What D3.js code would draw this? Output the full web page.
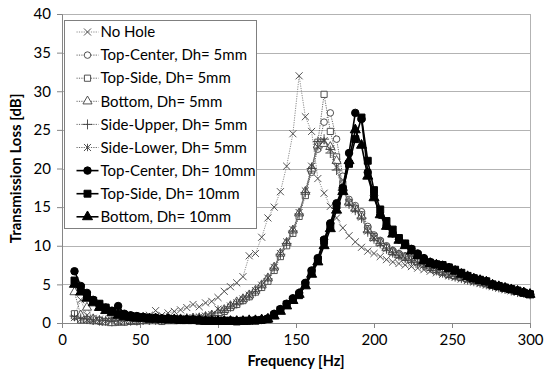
<!DOCTYPE html>
<html>
<head>
<meta charset="utf-8">
<script src="https://cdn.jsdelivr.net/npm/d3@7"></script>
<style>
  body { margin: 0; background: #fff; }
  text { font-family: Lato, "Liberation Sans", sans-serif; }
</style>
</head>
<body>
<div id="chart"></div>
<script>
// frequencies [Hz]
var freqs = [8, 12, 16, 20, 24, 28, 32, 36, 40, 44,
  48, 52, 56, 60, 64, 68, 72, 76, 80, 84,
  88, 92, 96, 100, 104, 108, 112, 116, 120, 124,
  128, 132, 136, 140, 144, 148, 152, 156, 160, 164,
  168, 172, 176, 180, 184, 188, 192, 196, 200, 204,
  208, 212, 216, 220, 224, 228, 232, 236, 240, 244,
  248, 252, 256, 260, 264, 268, 272, 276, 280, 284,
  288, 292, 296, 300];

var noHole = [1.0, 3.0, 1.0, 0.6, 0.5, 0.1, 0.3, 0.4, 0.5, 0.6,
  0.7, 0.8, 1.0, 1.6, 1.0, 1.3, 1.5, 1.7, 2.0, 2.4,
  2.1, 2.6, 2.8, 3.3, 4.1, 4.7, 5.2, 6.0, 8.7, 9.0,
  11.1, 13.6, 15.0, 17.0, 20.3, 24.5, 32.0, 26.7, 24.8, 18.7,
  16.8, 15.1, 13.6, 12.3, 11.3, 10.5, 9.8, 9.3, 9.0, 8.6,
  8.2, 7.9, 7.7, 7.5, 7.3, 7.1, 6.9, 6.7, 6.5, 6.3,
  6.1, 5.9, 5.7, 5.5, 5.3, 5.1, 4.9, 4.7, 4.5, 4.3,
  4.2, 4.0, 3.9, 3.7];

var topCenter5 = [0.8, 0.5, 0.5, 0.3, 0.2, 0.2, 0.3, 0.2, 0.2, 0.2,
  0.3, 0.3, 0.3, 0.4, 0.3, 0.4, 0.4, 0.4, 0.5, 0.5,
  0.6, 0.7, 0.9, 1.2, 1.6, 2.1, 2.6, 3.0, 3.5, 4.1,
  4.7, 5.6, 7.0, 8.8, 10.2, 11.8, 14.0, 16.8, 19.5, 22.5,
  26.0, 27.2, 23.8, 19.0, 16.0, 15.2, 14.4, 12.5, 11.4, 10.7,
  10.0, 9.4, 9.0, 8.7, 8.4, 8.1, 7.8, 7.4, 7.0, 6.8,
  6.5, 6.2, 6.0, 5.8, 5.6, 5.4, 5.2, 5.0, 4.8, 4.6,
  4.4, 4.2, 4.0, 3.8];

var topSide5 = [1.2, 0.4, 0.4, 0.3, 0.3, 0.2, 0.2, 0.1, 0.1, 0.2,
  0.2, 0.3, 0.3, 0.3, 0.2, 0.3, 0.3, 0.4, 0.4, 0.5,
  0.5, 0.6, 0.8, 1.1, 1.5, 2.0, 2.4, 2.9, 3.4, 4.0,
  4.6, 5.4, 6.8, 8.6, 10.0, 11.6, 13.8, 16.5, 19.8, 23.4,
  29.6, 24.8, 21.5, 18.0, 15.6, 14.8, 14.0, 12.2, 11.2, 10.5,
  9.8, 9.2, 8.8, 8.5, 8.2, 7.9, 7.6, 7.2, 6.9, 6.6,
  6.3, 6.1, 5.9, 5.7, 5.5, 5.3, 5.1, 4.9, 4.7, 4.5,
  4.3, 4.1, 3.9, 3.7];

var bottom5 = [4.0, 1.0, 2.0, 0.5, 0.3, 0.1, 0.0, 0.2, 0.2, 0.3,
  0.3, 0.3, 0.4, 0.4, 0.4, 0.4, 0.5, 0.5, 0.5, 0.6,
  0.6, 0.8, 1.0, 1.3, 1.7, 2.2, 2.7, 3.1, 3.6, 4.2,
  4.9, 5.8, 7.2, 9.0, 10.4, 12.0, 14.2, 17.0, 20.0, 23.0,
  23.2, 22.8, 21.0, 17.5, 15.6, 14.8, 13.8, 12.0, 11.0, 10.4,
  9.7, 9.2, 8.8, 8.5, 8.2, 7.9, 7.6, 7.2, 6.9, 6.6,
  6.3, 6.1, 5.9, 5.7, 5.5, 5.3, 5.1, 4.9, 4.7, 4.5,
  4.3, 4.1, 3.9, 3.7];

var sideUpper5 = [0.9, 0.6, 0.5, 0.4, 0.3, 0.3, 0.2, 0.3, 0.3, 0.3,
  0.3, 0.4, 0.4, 0.4, 0.4, 0.5, 0.5, 0.5, 0.6, 0.6,
  0.7, 0.8, 1.0, 1.3, 1.6, 2.1, 2.5, 3.0, 3.5, 4.1,
  4.8, 5.7, 7.1, 8.9, 10.3, 11.9, 14.1, 16.9, 20.0, 23.5,
  23.8, 22.0, 19.8, 17.2, 15.4, 14.6, 13.6, 11.8, 10.9, 10.3,
  9.6, 9.1, 8.7, 8.4, 8.1, 7.8, 7.5, 7.1, 6.8, 6.5,
  6.2, 6.0, 5.8, 5.6, 5.4, 5.2, 5.0, 4.8, 4.6, 4.4,
  4.2, 4.0, 3.9, 3.7];

var sideLower5 = [0.7, 0.5, 0.4, 0.3, 0.3, 0.2, 0.3, 0.2, 0.3, 0.3,
  0.3, 0.4, 0.4, 0.5, 0.4, 0.5, 0.5, 0.6, 0.6, 0.7,
  0.8, 0.9, 1.1, 1.8, 1.7, 2.2, 2.6, 3.1, 3.6, 4.2,
  4.9, 5.8, 7.2, 9.0, 10.5, 12.1, 14.3, 17.1, 20.3, 22.8,
  23.6, 22.5, 20.2, 17.4, 15.5, 14.7, 13.7, 11.9, 11.0, 10.3,
  9.6, 9.1, 8.7, 8.4, 8.1, 7.8, 7.5, 7.1, 6.8, 6.5,
  6.2, 6.0, 5.8, 5.6, 5.4, 5.2, 5.0, 4.8, 4.6, 4.4,
  4.2, 4.0, 3.9, 3.7];

var topCenter10 = [6.7, 4.8, 3.9, 3.0, 2.4, 2.0, 1.6, 2.2, 1.2, 1.0,
  0.9, 0.8, 0.7, 0.7, 0.6, 0.6, 0.5, 0.5, 0.5, 0.4,
  0.4, 0.3, 0.3, 0.3, 0.3, 0.3, 0.3, 0.3, 0.3, 0.4,
  0.4, 0.6, 1.2, 1.8, 2.5, 3.2, 3.9, 5.2, 6.8, 8.4,
  10.8, 12.9, 15.5, 17.5, 22.0, 27.2, 26.4, 19.5, 16.5, 14.0,
  12.6, 11.6, 10.8, 10.2, 9.6, 9.0, 8.4, 7.9, 7.6, 7.5,
  7.2, 6.8, 6.4, 6.0, 5.8, 5.6, 5.4, 5.0, 4.8, 4.6,
  4.4, 4.2, 4.0, 3.8];

var topSide10 = [5.5, 4.6, 3.6, 2.9, 2.5, 2.0, 1.5, 1.2, 1.0, 0.9,
  0.8, 0.7, 0.6, 0.6, 0.5, 0.5, 0.5, 0.4, 0.4, 0.4,
  0.3, 0.3, 0.3, 0.3, 0.3, 0.3, 0.2, 0.3, 0.3, 0.3,
  0.4, 0.5, 1.0, 1.7, 2.4, 3.0, 3.6, 5.0, 6.6, 8.2,
  10.6, 12.6, 15.2, 17.2, 20.6, 23.8, 26.6, 21.0, 17.2, 14.7,
  13.2, 12.1, 11.0, 10.3, 9.5, 8.8, 8.1, 7.8, 7.6, 7.5,
  7.2, 6.9, 6.5, 6.1, 5.8, 5.6, 5.4, 5.0, 4.8, 4.6,
  4.4, 4.2, 3.9, 3.7];

var bottom10 = [5.0, 4.0, 3.2, 2.6, 2.0, 1.6, 1.3, 1.0, 0.8, 0.7,
  0.6, 0.6, 0.5, 0.5, 0.4, 0.4, 0.4, 0.3, 0.3, 0.3,
  0.3, 0.2, 0.2, 0.2, 0.2, 0.2, 0.2, 0.2, 0.3, 0.3,
  0.4, 0.5, 0.9, 1.5, 2.2, 2.9, 3.7, 4.8, 6.3, 7.9,
  10.0, 12.2, 14.6, 17.0, 21.0, 25.0, 23.0, 19.0, 16.2, 14.0,
  12.5, 11.5, 10.7, 10.0, 9.3, 8.7, 8.1, 7.7, 7.5, 7.3,
  7.0, 6.7, 6.3, 6.0, 5.7, 5.5, 5.3, 4.9, 4.7, 4.5,
  4.3, 4.1, 3.9, 3.7];

var seriesNames = ["No Hole", "Top-Center, Dh= 5mm", "Top-Side, Dh= 5mm", "Bottom, Dh= 5mm",
  "Side-Upper, Dh= 5mm", "Side-Lower, Dh= 5mm", "Top-Center, Dh= 10mm",
  "Top-Side, Dh= 10mm", "Bottom, Dh= 10mm"];
var seriesValues = [noHole, topCenter5, topSide5, bottom5, sideUpper5, sideLower5,
  topCenter10, topSide10, bottom10];

var xTicks = [0, 50, 100, 150, 200, 250, 300];
var yTicks = [0, 5, 10, 15, 20, 25, 30, 35, 40];

// look of each series
var styles = [
  { marker: "x", filled: false, line: "#8c8c8c", dash: "1.2,1.2", width: 1, mcol: "#404040" },
  { marker: "circle", filled: false, line: "#666", dash: "1.2,1.2", width: 1, mcol: "#404040" },
  { marker: "square", filled: false, line: "#666", dash: "1.2,1.2", width: 1, mcol: "#404040" },
  { marker: "triangle", filled: false, line: "#666", dash: "1.2,1.2", width: 1, mcol: "#404040" },
  { marker: "plus", filled: false, line: "#666", dash: "1.2,1.2", width: 1, mcol: "#404040" },
  { marker: "star", filled: false, line: "#666", dash: "1.2,1.2", width: 1, mcol: "#404040" },
  { marker: "circle", filled: true, line: "#000", dash: null, width: 1.6, mcol: "#000" },
  { marker: "square", filled: true, line: "#000", dash: null, width: 1.6, mcol: "#000" },
  { marker: "triangle", filled: true, line: "#000", dash: null, width: 1.6, mcol: "#000" }
];

var W = 556, H = 372;
var margin = { top: 14, right: 26, bottom: 49, left: 62 },
  width = W - margin.left - margin.right,
  height = H - margin.top - margin.bottom;

var svg = d3.select("#chart").append("svg")
  .attr("width", W).attr("height", H);

var g = svg.append("g")
  .attr("transform", "translate(" + margin.left + "," + margin.top + ")");

var x = d3.scaleLinear().domain([0, 300]).range([0, width]);
var y = d3.scaleLinear().domain([0, 40]).range([height, 0]);

// gridlines
g.append("g").selectAll("line").data(yTicks.slice(1)).enter().append("line")
  .attr("x1", 0).attr("x2", width)
  .attr("y1", function (d) { return Math.round(y(d)) + 0.5; })
  .attr("y2", function (d) { return Math.round(y(d)) + 0.5; })
  .attr("stroke", "#b3b3b3").attr("stroke-width", 1);

// right border of plot area
g.append("line")
  .attr("x1", width + 0.5).attr("x2", width + 0.5)
  .attr("y1", y(40)).attr("y2", height)
  .attr("stroke", "#b3b3b3");

// axes
var xAxis = g.append("g")
  .attr("transform", "translate(0," + height + ")")
  .call(d3.axisBottom(x).tickValues(xTicks).tickSize(5).tickPadding(6));
var yAxis = g.append("g")
  .call(d3.axisLeft(y).tickValues(yTicks).tickSize(5).tickPadding(6));
[xAxis, yAxis].forEach(function (a) {
  a.select(".domain").attr("stroke", "#868686");
  a.selectAll(".tick line").attr("stroke", "#868686");
  a.selectAll(".tick text").attr("fill", "#000").style("font-size", "15px")
    .style("font-family", "Lato, sans-serif");
});

// axis titles
svg.append("text")
  .attr("x", margin.left + width / 2).attr("y", 366)
  .attr("text-anchor", "middle")
  .style("font-size", "14.5px").style("font-weight", "bold")
  .text("Frequency [Hz]");
svg.append("text")
  .attr("transform", "translate(21," + (margin.top + height / 2) + ") rotate(-90)")
  .attr("text-anchor", "middle")
  .style("font-size", "15px").style("font-weight", "bold")
  .text("Transmission Loss [dB]");

// marker drawing
function markerPath(type, filled) {
  if (type === "circle") return d3.symbol().type(d3.symbolCircle).size(filled ? 44 : 34)();
  if (type === "square") return d3.symbol().type(d3.symbolSquare).size(filled ? 48 : 38)();
  if (type === "triangle") return d3.symbol().type(d3.symbolTriangle).size(filled ? 44 : 36)();
  if (type === "x") return d3.symbol().type(d3.symbolTimes).size(34)();
  if (type === "plus") return d3.symbol().type(d3.symbolPlus).size(34)();
  if (type === "star") return d3.symbol().type(d3.symbolTimes).size(34)() + "M0,-3.7L0,3.7";
}

function drawMarker(sel, st) {
  var stroked = st.marker === "x" || st.marker === "plus" || st.marker === "star";
  sel.append("path")
    .attr("d", markerPath(st.marker, st.filled))
    .attr("fill", stroked ? "none" : (st.filled ? st.mcol : "#fff"))
    .attr("stroke", st.mcol)
    .attr("stroke-width", st.filled ? 1 : 0.9);
}

var line = d3.line()
  .x(function (d) { return x(d[0]); })
  .y(function (d) { return y(d[1]); });

var plot = g.append("g");
seriesValues.forEach(function (vals, si) {
  var st = styles[si];
  var pts = freqs.map(function (f, i) { return [f, vals[i]]; });
  var sg = plot.append("g");
  sg.append("path")
    .datum(pts)
    .attr("d", line)
    .attr("fill", "none")
    .attr("stroke", st.line)
    .attr("stroke-width", st.width)
    .attr("stroke-dasharray", st.dash);
  sg.selectAll("g.m").data(pts).enter().append("g")
    .attr("class", "m")
    .attr("transform", function (d) { return "translate(" + x(d[0]) + "," + y(d[1]) + ")"; })
    .each(function () { drawMarker(d3.select(this), st); });
});

// legend
var lg = svg.append("g").attr("transform", "translate(64.5,20.5)");
lg.append("rect")
  .attr("width", 192).attr("height", 208)
  .attr("fill", "#fff").attr("stroke", "#7f7f7f").attr("stroke-width", 1);
seriesNames.forEach(function (name, i) {
  var st = styles[i];
  var row = lg.append("g").attr("transform", "translate(0," + (11.5 + i * 23.1) + ")");
  row.append("line")
    .attr("x1", 12).attr("x2", 34).attr("y1", 0).attr("y2", 0)
    .attr("stroke", st.line).attr("stroke-width", st.width)
    .attr("stroke-dasharray", st.dash);
  var mk = row.append("g").attr("transform", "translate(23,0)");
  drawMarker(mk, st);
  row.append("text")
    .attr("x", 36).attr("y", 0).attr("dy", "0.35em")
    .style("font-size", "15px")
    .text(name);
});
</script>
</body>
</html>
